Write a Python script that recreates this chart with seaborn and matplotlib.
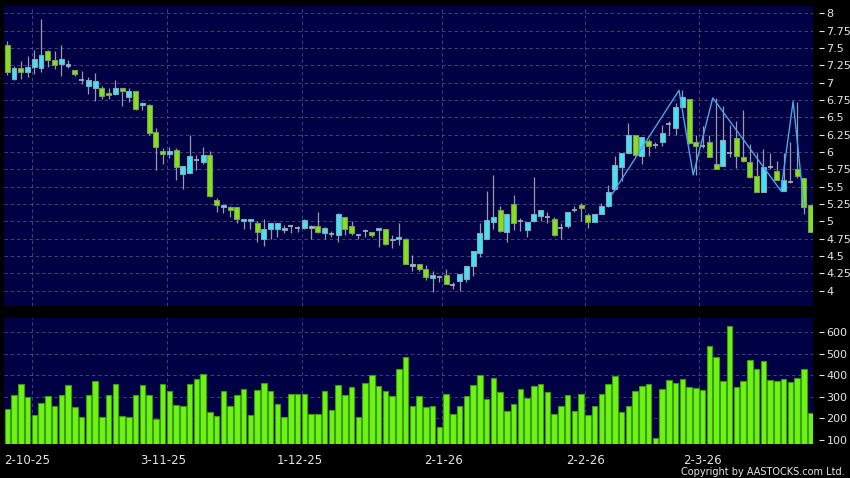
import numpy as np
import pandas as pd
import matplotlib
matplotlib.use("Agg")
import matplotlib.pyplot as plt
import seaborn as sns

# ---------------- data ----------------
opens = [7.55, 7.06, 7.21, 7.16, 7.23, 7.21, 7.45, 7.32, 7.27, 7.24,
         7.18, 7.04, 6.95, 6.93, 6.93, 6.85, 6.84, 6.93, 6.79, 6.88,
         6.68, 6.68, 6.29, 6.01, 5.97, 6.03, 5.68, 5.70, 5.88, 5.86,
         5.96, 5.31, 5.21, 5.21, 5.21, 5.00, 5.00, 4.97, 4.74, 4.89,
         4.89, 4.88, 4.94, 4.91, 4.90, 4.90, 4.93, 4.83, 4.82, 4.80,
         5.06, 4.93, 4.80, 4.86, 4.84, 4.88, 4.89, 4.73, 4.74, 4.74,
         4.35, 4.38, 4.31, 4.19, 4.20, 4.23, 4.08, 4.14, 4.17, 4.35,
         4.54, 4.74, 4.99, 5.16, 4.84, 5.25, 5.00, 4.87, 5.00, 5.08,
         5.07, 5.04, 4.90, 4.93, 5.17, 5.23, 5.09, 4.99, 5.10, 5.22,
         5.46, 5.78, 5.98, 6.24, 5.95, 6.16, 6.10, 6.15, 6.40, 6.34,
         6.65, 6.76, 6.15, 6.09, 6.15, 5.83, 5.80, 5.99, 6.20, 5.93,
         5.86, 5.65, 5.42, 5.78, 5.72, 5.44, 5.57, 5.75, 5.63, 5.23]

highs = [7.60, 7.24, 7.31, 7.39, 7.47, 7.92, 7.47, 7.45, 7.54, 7.32,
         7.18, 7.17, 7.08, 7.14, 6.95, 6.93, 7.04, 6.93, 6.93, 6.88,
         6.72, 6.69, 6.34, 6.06, 6.07, 6.06, 5.80, 6.25, 5.96, 6.07,
         6.01, 5.34, 5.25, 5.22, 5.21, 5.04, 5.03, 5.01, 5.03, 4.98,
         4.98, 4.95, 4.95, 4.94, 5.04, 4.95, 5.13, 4.92, 4.86, 5.12,
         5.07, 5.01, 4.82, 4.89, 4.85, 4.90, 4.89, 4.80, 4.98, 4.76,
         4.52, 4.38, 4.37, 4.28, 4.21, 4.32, 4.13, 4.24, 4.36, 4.57,
         4.97, 5.44, 5.67, 5.22, 5.10, 5.38, 5.05, 4.99, 5.64, 5.16,
         5.14, 5.06, 4.97, 5.13, 5.22, 5.26, 5.12, 5.10, 5.26, 5.53,
         5.95, 5.99, 6.42, 6.24, 6.21, 6.19, 6.15, 6.39, 6.45, 6.70,
         6.89, 6.76, 6.25, 6.37, 6.25, 6.78, 6.67, 6.39, 6.45, 6.60,
         6.12, 5.99, 6.04, 5.99, 5.87, 5.99, 6.14, 6.72, 5.63, 5.23]

lows = [7.11, 7.04, 7.05, 7.08, 7.13, 7.16, 7.23, 7.20, 7.10, 7.21,
        7.09, 6.98, 6.83, 6.73, 6.77, 6.77, 6.82, 6.67, 6.72, 6.61,
        6.61, 6.25, 5.74, 5.83, 5.91, 5.59, 5.46, 5.70, 5.74, 5.83,
        5.35, 5.13, 5.12, 5.07, 4.98, 4.89, 4.89, 4.70, 4.65, 4.74,
        4.77, 4.83, 4.83, 4.85, 4.89, 4.75, 4.83, 4.74, 4.78, 4.71,
        4.81, 4.80, 4.74, 4.77, 4.77, 4.63, 4.66, 4.62, 4.66, 4.38,
        4.28, 4.29, 4.16, 3.98, 4.13, 4.10, 4.02, 3.99, 4.12, 4.21,
        4.48, 4.74, 4.89, 4.84, 4.70, 4.87, 4.86, 4.77, 4.99, 5.00,
        4.98, 4.79, 4.74, 4.90, 5.13, 5.00, 4.91, 4.99, 5.10, 5.21,
        5.45, 5.58, 5.98, 5.95, 5.83, 5.94, 6.06, 6.08, 6.24, 6.25,
        6.65, 6.12, 5.67, 6.06, 5.93, 5.76, 5.80, 5.93, 5.77, 5.86,
        5.63, 5.42, 5.42, 5.75, 5.60, 5.44, 5.56, 5.63, 5.10, 4.85]

closes = [7.16, 7.21, 7.15, 7.22, 7.34, 7.40, 7.32, 7.25, 7.34, 7.27,
          7.12, 7.04, 7.04, 7.02, 6.81, 6.82, 6.93, 6.88, 6.88, 6.62,
          6.70, 6.28, 6.07, 5.97, 6.01, 5.79, 5.80, 5.95, 5.88, 5.96,
          5.36, 5.24, 5.23, 5.16, 5.03, 5.03, 5.03, 4.84, 4.89, 4.98,
          4.98, 4.91, 4.94, 4.91, 5.02, 4.93, 4.85, 4.90, 4.82, 5.10,
          4.89, 4.83, 4.80, 4.86, 4.81, 4.90, 4.67, 4.75, 4.77, 4.38,
          4.38, 4.32, 4.20, 4.22, 4.20, 4.10, 4.08, 4.24, 4.35, 4.57,
          4.83, 5.02, 5.06, 4.86, 5.10, 4.98, 5.00, 4.99, 5.10, 5.16,
          5.07, 4.80, 4.90, 5.13, 5.17, 5.19, 4.99, 5.10, 5.22, 5.43,
          5.81, 5.98, 6.24, 5.96, 6.21, 6.08, 6.10, 6.28, 6.40, 6.65,
          6.79, 6.13, 6.09, 6.09, 5.93, 5.76, 6.17, 5.99, 5.95, 5.87,
          5.64, 5.42, 5.78, 5.78, 5.60, 5.59, 5.57, 5.65, 5.21, 4.85]

volumes = [242, 308, 360, 300, 215, 269, 305, 258, 308, 354,
           252, 205, 308, 374, 206, 308, 357, 209, 205, 308,
           354, 308, 197, 360, 325, 260, 257, 358, 380, 405,
           231, 212, 326, 257, 306, 338, 217, 329, 363, 326,
           266, 205, 311, 315, 311, 218, 218, 326, 237, 354,
           306, 345, 208, 366, 402, 352, 326, 303, 428, 483,
           257, 305, 254, 257, 162, 311, 220, 257, 303, 355,
           400, 289, 389, 320, 235, 266, 338, 294, 351, 360,
           320, 222, 255, 308, 235, 314, 215, 257, 311, 358,
           394, 231, 255, 325, 348, 360, 109, 334, 378, 365,
           383, 345, 340, 329, 534, 486, 372, 629, 345, 375,
           471, 428, 465, 377, 374, 383, 369, 386, 429, 225]

tick_labels = ["2-10-25", "3-11-25", "1-12-25", "2-1-26", "2-2-26", "2-3-26"]
tick_bars = [3.0, 23.1, 43.25, 64.6, 85.7, 103.0]
grid_bars = [3.6, 23.6, 43.6, 64.4, 85.5, 102.5]

zigzag_bars = [89.5, 99.5, 101.6, 104.5, 114.6, 116.4, 118.05]
zigzag_values = [5.38, 6.89, 5.67, 6.78, 5.44, 6.73, 5.19]

price_ticks = [4, 4.25, 4.5, 4.75, 5, 5.25, 5.5, 5.75, 6, 6.25, 6.5, 6.75, 7, 7.25, 7.5, 7.75, 8]
price_tick_labels = ["4", "4.25", "4.5", "4.75", "5", "5.25", "5.5", "5.75", "6", "6.25",
                     "6.5", "6.75", "7", "7.25", "7.5", "7.75", "8"]
volume_ticks = [100, 200, 300, 400, 500, 600]

# ---------------- style ----------------
sns.set_style("dark")
plt.rcParams["font.family"] = ["DejaVu Sans"]

BG = "#000000"
PANEL = "#000044"
GRID = "#5c5c8c"
TEXT = "#e6e6e6"
CYAN = "#3ce6f6"
GREEN = "#80e31c"
EDGE_C = "#8fa3b3"
EDGE_G = "#7f9b5a"
WICK = "#9a9aa6"
DOJI = "#a8a8b4"
VOL = "#6cf514"
VOL_EDGE = "#3f9a0c"
ZZ = "#4aa6e6"
GRID_LS = (0, (5, 4))

W, H = 850, 478
fig = plt.figure(figsize=(W / 100, H / 100), dpi=100, facecolor=BG)

left, right = 4, 813.3
ax1 = fig.add_axes([left / W, 1 - 306 / H, (right - left) / W, (306 - 5.7) / H])
ax2 = fig.add_axes([left / W, 1 - 444 / H, (right - left) / W, (444 - 318.3) / H])

o = np.array(opens); h = np.array(highs); l = np.array(lows); c = np.array(closes)
n = len(o)
idx = np.arange(n)
up = c > o
down = c < o
flat = c == o

for ax in (ax1, ax2):
    ax.set_facecolor(PANEL)
    for s in ax.spines.values():
        s.set_visible(False)
    ax.set_xlim(-0.49, 119.39)
    ax.yaxis.tick_right()
    ax.spines["right"].set_position(("outward", 4))
    ax.grid(False)
    for gx in grid_bars:
        ax.axvline(gx, color=GRID, lw=0.5, ls=GRID_LS, zorder=1)

# ---- candles ----
ax1.vlines(idx, l, h, color=WICK, lw=0.9, zorder=2)
bw = 0.72
ax1.bar(idx[up], (c - o)[up], bottom=o[up], width=bw, color=CYAN,
        edgecolor=EDGE_C, linewidth=0.8, zorder=3)
ax1.bar(idx[down], (o - c)[down], bottom=c[down], width=bw, color=GREEN,
        edgecolor=EDGE_G, linewidth=0.8, zorder=3)
ax1.hlines(o[flat], idx[flat] - bw / 2, idx[flat] + bw / 2, color=DOJI, lw=1.3, zorder=3)

sns.lineplot(x=zigzag_bars, y=zigzag_values, ax=ax1, color=ZZ, lw=1.0,
             sort=False, estimator=None, zorder=4)

ax1.set_ylim(3.78, 8.11)
ax1.set_yticks(price_ticks)
ax1.set_yticklabels(price_tick_labels)
for yv in price_ticks:
    ax1.axhline(yv, color=GRID, lw=0.5, ls=GRID_LS, zorder=1)
ax1.set_xticks([])
ax1.tick_params(axis="y", colors=TEXT, labelsize=8, length=3.5, width=0.8, pad=2)
ax1.set_xlabel(""); ax1.set_ylabel("")

# ---- volume ----
vol_df = pd.DataFrame({"bar": idx, "volume": volumes})
sns.barplot(data=vol_df, x="bar", y="volume", ax=ax2, native_scale=True,
            color=VOL, saturation=1, width=0.8, edgecolor=VOL_EDGE,
            linewidth=0.8, zorder=3)
ax2.set_xlim(-0.49, 119.39)
ax2.set_ylim(81.5, 663)
ax2.set_yticks(volume_ticks)
ax2.set_yticklabels([str(v) for v in volume_ticks])
for yv in volume_ticks:
    ax2.axhline(yv, color=GRID, lw=0.5, ls=GRID_LS, zorder=1)
ax2.set_xticks(tick_bars)
ax2.set_xticklabels(tick_labels)
ax2.spines["bottom"].set_position(("outward", 2.5))
ax2.tick_params(axis="y", colors=TEXT, labelsize=8, length=3.5, width=0.8, pad=2)
ax2.tick_params(axis="x", colors=TEXT, labelsize=8.5, length=3, width=0.8, pad=2)
ax2.set_xlabel(""); ax2.set_ylabel("")

fig.text(845 / W, 1 - 477 / H, "Copyright by AASTOCKS.com Ltd.", color=TEXT,
         fontsize=7, ha="right", va="bottom")

fig.savefig("out.png", dpi=100, facecolor=BG)
